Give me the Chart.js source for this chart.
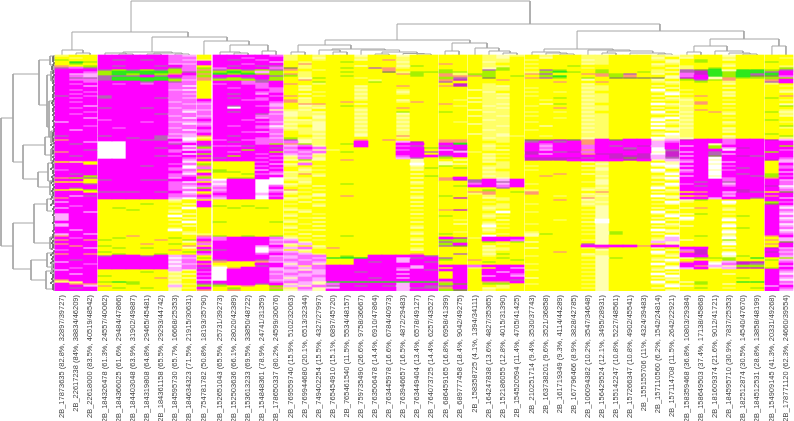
<!DOCTYPE html>
<html>
<head>
<meta charset="utf-8">
<title>Heatmap</title>
<script src="https://cdn.jsdelivr.net/npm/chart.js@4/dist/chart.umd.min.js"></script>
<style>
  html, body { margin: 0; padding: 0; background: #fff; }
  canvas { display: block; }
</style>
</head>
<body>
<canvas id="heat" width="794" height="421"></canvas>
<script>
const colLabels = [
  '2B_17873635 (82.8%, 32897/39727)', '2B_22617238 (84%, 38834/46209)', '2B_22618000 (83.5%, 40519/48542)',
  '2B_184326478 (61.3%, 24557/40062)', '2B_184366025 (61.6%, 29484/47866)', '2B_184403048 (63.9%, 31902/49887)',
  '2B_184319808 (64.8%, 29465/45481)', '2B_184361158 (65.5%, 29293/44742)', '2B_184595730 (65.7%, 16668/25353)',
  '2B_184634323 (71.5%, 21915/30631)', '2B_754781782 (50.8%, 18193/35790)',
  '2B_152651043 (65.5%, 25731/39273)', '2B_152503636 (66.1%, 28020/42389)', '2B_153613233 (69.5%, 33850/48722)',
  '2B_154848361 (78.9%, 24741/31359)', '2B_178650337 (80.2%, 24599/30676)',
  '2B_769559740 (15.9%, 5102/32063)', '2B_769944680 (20.1%, 6513/32344)', '2B_749402254 (15.5%, 4327/27997)',
  '2B_765454910 (15.1%, 6897/45720)', '2B_765461540 (11.5%, 5534/48157)', '2B_759735490 (26.6%, 9758/36667)',
  '2B_763506478 (14.4%, 6910/47864)', '2B_763445978 (16.6%, 6784/40973)', '2B_763946657 (16.5%, 4872/29483)',
  '2B_763449404 (13.4%, 6578/49127)', '2B_764073725 (14.4%, 6257/43527)',
  '2B_686459165 (16.8%, 6958/41399)', '2B_689777458 (18.4%, 9042/49275)',
  '2B_158358725 (4.1%, 1394/34111)', '2B_164247838 (13.6%, 4827/35365)', '2B_152186055 (12.8%, 4015/31390)',
  '2B_154520594 (11.4%, 4705/41425)',
  '2B_210251714 (9.4%, 3530/37743)', '2B_163738201 (9.6%, 3521/36858)', '2B_161719349 (9.3%, 4114/44289)',
  '2B_167796466 (8.9%, 3828/42785)', '2B_106094382 (10.2%, 3547/34648)', '2B_156429524 (12.1%, 3495/28931)',
  '2B_155142247 (10.8%, 5227/48561)', '2B_157266347 (10.8%, 4902/45541)', '2B_155155706 (11%, 4324/39483)',
  '2B_157110560 (6.2%, 1542/24814)', '2B_157114708 (11.5%, 2642/22921)',
  '2B_158359468 (36.8%, 10803/29384)', '2B_158649503 (37.4%, 17138/45868)', '2B_181609374 (21.6%, 9012/41721)',
  '2B_184595710 (30.9%, 7837/25353)', '2B_182512874 (30.5%, 14540/47670)', '2B_184512531 (28.8%, 13858/48199)',
  '2B_154909145 (41.3%, 20331/49268)', '2B_178771120 (62.3%, 24660/39554)'
];

// columns per cluster, and the white gap (in 1/14 of a column) after each one
const groupSizes = [3, 7, 1, 5, 11, 2, 4, 11, 6, 2];
const groupGaps = [1, 1, 2, 1, 1, 1, 1, 1, 1, 0];

const cellColors = {
  M: '#ff00ff', m: '#ff66ff', p: '#ffb0ff', w: '#ffffff',
  Y: '#ffff00', y: '#ffff66', l: '#ffffb0',
  G: '#2ee81c', g: '#a6f000', o: '#ff9a70',
  d: '#b464b4', D: '#cc22cc', n: '#8c8c50'
};

// one string per row, one letter per column, clusters split by a space
const heatRows = [
  'yYY MMMMMmp Y MMMMm yYyYYlYYlYY YY Yyly YyYYyyYYYyl yYYlYY YY',
  'YyY MMMMMmm Y MMmMM yYlYYyYYyYY YY YylY YlYYyyYYYlY lYYyYY Yy',
  'gYY MdMdMmp y MdMmM yYyYYlYoyYY YY YyyY yYYYlyYYYyl YgYlYY YY',
  'YGg MMMMMmm M MMMMp YyYYgYYYlYY YY YlyY YYYYyyYYYYl YgYYYY gY',
  'YgY MMMMMpp M MMmMM YoYYYYYYyYY oY YyYY yYYYlyYYYly YYYyYY YY',
  'oYg MdMMdMm Y MdMdd YyYYYlYYlgY YY YyyY YYYgYYYYYyY yYYlYY Yy',
  'dmd MMMMMdm g mMMMm nyYYgYdoyYY YY YlgY yYYYyYYYYYl yYgYYY Yg',
  'MMM dgdgdgm o dgdgd oYyYYYYoYYY gY YdgY YdgYYgYYYyY dnGlGG gd',
  'MMm gGGGGgd g gGgpg YyYYgYYnygg gg YgYY ygGgYgYYgyl dDGgGG dM',
  'Mpp gGgGgoM o GgGgg oyYYYYYYogY oy ggYY odYYoogdYlY mDGgGd GM',
  'Mmp dddMdMm g MMMMd gyYYgYYYYgY oo ogYg YgGYYogoYYl mMGgGn nm',
  'Mdd dGGGGdm o dgdMg YlgYYyYYYYY gd YnYY odgYgYnnnnl DMlogg gg',
  'Mmm dGGGGgp o gggdg YoYYYYyYYYY oD YYoY YYYYlYYYYlY gdgoYY oM',
  'MMm MMMdMdm Y MMmdM YYgYYYgYYYY dY YYYY YYoYYoYYYyl YgYyYY dM',
  'MmM MmMmMmm Y mMmmM oYyYYYYYYYY YD YyYY YYYYlYYYYYy YYYlYY yY',
  'MMp MMMMMmw Y MMMmM YlYYYlYYoYY oD YylY YYYYyyYYYlY YYYYYY Yy',
  'MMM MMMMMmm Y MmMmm YyYYYyYYYYY YY YyyY yYYYlyYYYYl YYYlYY YY',
  'MmM MMMMMpw Y MMMMm YlYYYlYYyYY YY lyyY YYYYyyYYYwY yYYYYY Yy',
  'MMm MMMMMmm Y MMMmm YYyYYyYYlYY YY YlYY yYyYlYYYYyl YYYlYY Yl',
  'MmM MMMMMmp Y MdMpM YlYYYlYYyYY YY YylY YYYYyyYYYYw yYYyYY YY',
  'dMm dMMMMmm Y MMMMm oYyYYyYYYYY YY YyyY yYYYlyYYYlY YoYlYY Yo',
  'MmM dMMMdmp Y MdMmM YlYYYlYYYYY YY lylY YYgYyyYYYYl yYYYYY gY',
  'MMM MMMMMmm M MMmmM oyYYYyYYlYY Yy YyyY YyYYlyYYYly lYYyYY Yy',
  'MmM MMMMMpm m MMMMm oyYYoYYYyoY YY lyyY YYYYyyYYYYY yoYYYY YY',
  'MMM MMMMMmp p MMMMp YooYYlYYYYY oY YylY YlgYlYYYYwl yoYlYY Yl',
  'MMp MMMMMmm m MdMmp YlyYgYYYYYY Yy YlyY yYYYyyYYYYy lYYYYY Yg',
  'MmM dMMdMpm m MwMMm YylYYyYYoYY YY YylY YYoYlyYYYlY yYYyYY YY',
  'MMM MMMMMmp p MMMMl ylYYYlYYYYY YY lyyY YYYYyyYYYYl yoYYYY Yy',
  'MMm MMMMMmw m MdMMm lylYYyYYgYY gY YlyY yYyYlYYYYwY lYoyYY gl',
  'MmM MMMMdmm m MMMdp lyyYYlYYlYY YY YyyY YYYYyyYYYyl yYYlYY Yy',
  'MMM MMMMMpm p MMMmm lylYYyYYyYY YY lylY yYYYlyYYYYY lYYYYY Yl',
  'MMp MMMMMmw m MMMpm yYlYYlYYlYY YY YyyY YYyYyyYYYlw yYYyYY YY',
  'MMM mMMMMmm M MMmMm llyYYyYYyYY YY YlyY YYYYlyYYYwY lYYYYY gY',
  'pMM MMMmMpp m MMMmp yylYYlYYlYY Yy YyyY yYYYyyYYYYl yYYlYY Yy',
  'MMM MMMMMmw p MMMMm lylYYyYYyYY YY lyyY YYYYlyYYYwy lYYyYY YY',
  'MMm MMMMMmm m MmMmw yYlYYlYYlYY YY YylY YlYYyyYYYYY yYYYYY Yg',
  'MMM MmMMMpm M MMMmp lylYYyYYyYY YY YyyY YYYYlyYYYwl lYYlYY Yy',
  'MpM MMMMMmw m MMMMm yylYYlYYlYY YY YlyY yYYYyyYYYYl yYYyYY YY',
  'MMM MMMMMmm m MMmpm YyyYYyYYyYY YY YyyY YYYYlyYYYyY yYYlYY YY',
  'MMM MMMMMpp M MMMMp YylYYlYYyYY YY lylY YYYYyyYYYlw yYYYYY gY',
  'dMM dMMMdmp o MdMMm YYyYYlYYoYY YY Yyly YyYYyyYYYYl yYYlYY Yg',
  'MMM MMdMdpw y MMMmp gylYYYYYyYY YY YlyY YYYYlyYYYwl lYYyYY Yy',
  'oMM MMMddMw Y mMmmm dlyYYoYoYYY oo YyyY nnDnoMnMMlp DMMmMM Dp',
  'MMp wwMMMmp M MdMmm mlyYYMYYpDY oo YYyY dMdMoMMMMpm MMMmMM MM',
  'MdM wwMMMdM M MMMmg ogyYgMYYMMY MG YyYY MmMMoMMMMpM MMlmMM MM',
  'MMM wwMMMMw d mmdMM pmlYYMYYmdY dM YlyY MpMMmMdMDpM pMgMMM Mg',
  'MMM wwMMdMm g MMMMd mMmYYYYYMMg MM YyYY MmMMmMMdMwM MMgpDM MM',
  'MMd wwMMMmw m MMgMM pmlyYYYYmMY pD YylY MpMMoMMDMwd MMMwMM Mm',
  'oMM wwMMMmM M MmMMg mpmYgYYYMMd Mp yYYY DMdDmMMMMlD pMdMMM gM',
  'MMM wwMMMMw g MMMmM pmlYYYYYMMY MM YlyY DpMMoDDMDwD MMdpMM MM',
  'MdM wwMMdmM M MgMMm lpyYYYYYmMM dM YyYY MMMMMMDDDpD pMnMDd MM',
  'MMM wwMMMMm o dMMmM ymlYYYYYpdY gY YlyY DDDDdMDnDpd MMwMMM Mm',
  'MMM MMMMMMp M MMMMm lglYoYYYYlY Yl YyYY DDDMMMMDMlp mMlMMM Dp',
  'YyY MMMMMMw Y YYYmM YyYYYYYYYlY lY YlyY YYYYlyYYYYl pMwpMM Yp',
  'MMY MMMMMmm g YYYMp lmYYYYYYYwY ll YYyY YYYYYlYYYwl MMlMMM YM',
  'MMM MMMdMMw o YYYmM yYyYYYYYYlY gY YyyY yYYYlyYYYlw pMwmMM Ym',
  'MMM MMMMMmw m YYYMm YyYYYYYYYyg Yg YlyY YYYYYlYYYYl MMwMdM Ym',
  'mMM MMMMMmm g gYYpM YlyYYYYYYlY YY YyYY yYYYylYYYwY pMlmMM YM',
  'MMM MMMMMMp Y ggYMm lyYYYYYYYYY YY YlyY YYYYYyYYYly mMwMMM Yp',
  'MdM MMMMMmw M YYgmp yoyYYYYYYlY YY YyyY YYoYlyYYYYw MMwMdM gM',
  'MMg MMMMMmm o YYYMM yYlYYYYYYYg YY YlyY YoYYYlYYYyY pMlMMd gm',
  'ogd MMMMMpM g YggMw lyYYYYYYYlY oM YylY YYYYYyYYYlw MMwmMM oM',
  'MMY dMMddMM m wMMww yyYYYYYYYYY oD dMpM YYYYYlYYYYy MMMmMM Mp',
  'YYY MMMMMmw Y pMMww YlYYYYYYYlY YY dMdM YYYYylYYYlY MdMdMM Mm',
  'MMd MMMMMmm M wMMww lyYYgYYYYyY YY mMpM yYYYYlYYYYw mMMpMM Mm',
  'MMM MMMMMmp m pMMwm yYlYYYYYYYY Yg MMmM YYYYYyYYYyl MdMmMM Dw',
  'MdM MMMMMmw g mMMwM YyYYYYYYYlY YY YYdY YYYYylYYYwY MMMMMM Mp',
  'YYg MMMMMmm M pMMwp oYyYYYYYYYY YY YgYY yYYYlyYYYYl MMMMDM Mm',
  'MMY dddMdMw Y mMMwm lyYYYYYYYlY YY ooYg oYYYYoYYYly YoMpDd Yn',
  'MMM MMMMMmp o MMMpM yYlYYYYYYYY YY yoYY oYYYlyYYYYY MMMmMM MM',
  'Mpd MMMMMmm M mMMwm YylYoYYYYyY gY YyYY YYyYylYYYwl YoMpMM oM',
  'oMM MMMMMpw m pMMwM lyYYYYYYYlY YD YlyY YYYYoyYYYYl MMpMMd Mp',
  'MMM YYYYYlY Y YYYYY yYlYYYYYYYY YY YYyY YYoYlyYYYlY lgYYYY MM',
  'pMM YYYYYyY M YYYYY YlYYYYYYYlY YY YyYY YYYYylYYYYw yYYwYY gm',
  'MMM YYYgYYl M YYYYY yYyYYYYYYYY YY YYyY yYYYlyYYYyl YYYlYY nM',
  'MmM YYYYYyY M gYgYY YYlYYYYYYlY YY YyyY YYYYylYYYYY YYYYYY Mp',
  'pMM YgYYYYw Y YgYgY yYYYYYYYYYY YY YlyY YYYYYlYYYlY loYyYY Mw',
  'MMM YYgYYyY Y YYYYY lyYYYYYYYyY oD YyYY YYYYylYYYYl YYYlYY Mm',
  'MMp YYYYYlY Y YYYYY YlYYYYYYYYY YY YYwY yYYYYlYYYwY YYYYYY Mp',
  'pMM YYYYYYl Y YYYYY yYyYYYYYYlY YY YyYY YYYYylYYYyl lgYyYY Mw',
  'pMM YYYYYwY Y YYYYY lYYYYYYYYYY gY YlyY YYYYYlYYYYw YYYYgY Mm',
  'pMM YYYYYYl Y YYYYY YylYYYYYYyY YY YyYY YYYYylYYYlY wYYlYY Mw',
  'pMM YYYYYlY Y YYYYY yYYYYYYYYYY Yy YYlY YYyYYwYYYYl lYYwYY Mp',
  'MMM YYYYYYw Y gYYYg lYlYYYYYYlY YY YyYY YYYYlwYYYwY YYYYYY Mm',
  'pMM YYYYYyY Y YYYYY YyYYYYYYYYY Yl YlyY yYYYYlYYYYl YYYlYY Mw',
  'pMM YYYYYYl Y YYYYY yYlYYYYYYyY YY YwYY YYYYylYYYly lYYwYY Mp',
  'MMM YYYYYyY Y YYYYY lYYYYYYYYlY YY YyyY YYYYYlYYYYY YYYYgY Mm',
  'MpM YYYYYwY Y YYYYY YylYYYYYYYY YY YlYY YYYYylYYYwl YYYlYY Mw',
  'MMM YYYYYYy Y YYYYY yYYYYYYYYyY Yy YyYY yYYYYlgYYYl YYYwYY Mp',
  'pMp YYYYYYl y YYYYY YlYYYYYYYlY gY YYyY lgYYylgYYlY YYYyYY Mm',
  'oMM YYoYYYY o gYgYg yYlYgYYYYYY YY YwYY lYYYYlYYYYw YgYlYY oM',
  'MmM YgYYYgY m mMMMm lyYYYYYYYyY MD yMMM YYYYYlYYYyp YYYwYY Yp',
  'oMo gYYYoYg M mMMMp pYyYYYYYYlY gg YMMm YYYYylYYYlp lYYgYY op',
  'MMM YYYYYYl o MMMMm mlYYYYYYYYY dg YgYg lYYYYlYYYpl YYYlYY Yn',
  'oMM YYYoYgY m MMMMp lpYYYYYYYlY gM YYyY YYYYdlYYYYl YYYwYY oM',
  'MoM gYYYYYo Y MMMpM yYlYYYYYYYY dn YlYY YYYYMMMMoMM YYYYYY YM',
  'MMp YgYgYYl M MMMwm pmyoYYYYYyY YY YyyY lYYYyoYYYlY MMYlYY Dp',
  'mMM YYYYYoY g dMMwp YlYYYYYYYlY YY YlyY YYYYYlYYYYl mDYYYY Mm',
  'MMM gYYYYYg M MMMwm pyYYYYYYYYY YY YyYY YYoYYyYYYwY oDYlYY Dp',
  'oMo YgYYgYY m MMMmM mpyYYYYYYoY Yd YlgY YYYYlyYYYly MDYwYY Mm',
  'MMM dMMdMpm Y MMMMp pmmYgYMMMMd YY YyYY yYYYylYYYYl MMYlgY Mp',
  'MMM MMMMMwp g MMMMm pmpGGGMMpdM dY YYgY YYYYYlgYYyY lgggYG Yg',
  'MdM MMMMMpm Y dMMdm mpmYYMMMpMM gY oYYg YYYYylYYYlw YYYgYY gp',
  'pMM MMMMMwm M oYYop pmpYYMdMpMd YY YgYY YYYYYlYYYYy oMlpDD Ym',
  'MMm MMMMMpp o YYYMM lmlYYMMMMMM YY YYYY yYYYylYYYwY MMwmDd YM',
  'MMM MMMMMwm M yYYdM pymMMMMMMpM MM mMMM YYYYYlYYYYl Moplgg Yp',
  'MmM MMMMMpm d woMMp mpmMMMMMmpM YM yYMp YYYYylYYYyw pMlpDD gM',
  'pMM YYYYYpl M wMMMp plpMMMMMpMd MM YMMM yYYYYlYYYlY YYYYYY Mm',
  'MMM YYYgYlY m wMMMm pmpMMdMMMMM YM YMpM YYYYylYYYYl YYYYYY Mp',
  'MpM YYYYYyl M wMMMp mppMMMMMpMM YM YMMm YYYYYlYYYwY YYYlYY Mw',
  'MMM gYYYYlY m wMMMm ppmMMMMMMMM YM YpMp YYYYylYYYYw YYYYYY Mm',
  'MMM YYYYoyl M wMMMm lmpMMMdMpMM YM YMMM lYYYYlYYYly YYYYgY Mp',
  'oMM YYYYYlY p wMMMp pmpMMMMMMMM MM YMMd YYYYylYYYYl YYYYYY Mw',
  'yyM gGgYYyY M MMMMm mplGGGGGGGG oM YooM YYYYYlYYYwY lgYYGG Mm',
  'Moo YYgYYly d dMMdM lplmMMMMpMM gn YggY yYYYylYYYyl YgYlYY Mp',
  'MMp oYYYYpY g gYoYg plmdMdMdpMd dM YYyY YYYYYlYYYYw lYYYYY pM',
  'MdM YgYgYly M YgYYo ymlpMMMMpdd oM YlyY YYYYylYYYlY YgYyYg Mm',
  'MMM YYYYYlY o YoYYg lplMMMMMpMM gn YyYY YYYYYlYYYYl YYYYYY Mp'
];

// column tree merges: [left x, right x, height, left child height, right child height]
const topMerges = [
  [4.93, 33.43, 54, 23, 31], [0.71, 9.0, 23, 5, 18], [6.43, 11.79, 18, 3, 14],
  [10.14, 13.36, 14, 0, 10], [12.0, 14.71, 10, 3, 4], [11.29, 12.71, 3, 0, 2],
  [12.29, 13.29, 2, 0, 0], [14.29, 15.29, 4, 0, 0], [0, 1.5, 5, 0, 2], [1, 2, 2, 0, 0],
  [4.36, 7.86, 3, 2, 2], [3.07, 4.57, 2, 0, 1], [4.07, 5.07, 1, 0, 0], [6.57, 8.57, 2, 1, 1],
  [6.07, 7.07, 1, 0, 0], [8.07, 9.07, 1, 0, 0],
  [23.93, 42.71, 31, 15, 24], [18.79, 29.14, 15, 10, 12], [16.86, 20.64, 10, 3, 6],
  [16.36, 17.36, 3, 0, 0], [19.29, 23.07, 6, 5, 5], [18.36, 19.86, 5, 0, 3], [19.36, 20.36, 3, 0, 0],
  [21.36, 24.11, 5, 0, 3], [22.86, 25.36, 3, 1, 1.5], [22.36, 23.36, 1, 0, 0],
  [24.36, 25.86, 1.5, 0, 1], [25.36, 26.36, 1, 0, 0],
  [27.86, 30.36, 12, 4, 7], [27.36, 28.36, 4, 0, 0], [29.5, 31.21, 7, 0, 4],
  [30.5, 32, 4, 0, 2], [31.5, 32.5, 2, 0, 0],
  [36.79, 48.71, 24, 6, 16], [34.43, 39.36, 6, 3, 5], [33.57, 35.57, 3, 0, 2],
  [34.57, 36.07, 2, 0, 1], [35.57, 36.57, 1, 0, 0], [37.57, 40.57, 5, 0, 4],
  [38.95, 42.2, 4, 2, 2], [38.57, 39.57, 2, 0, 0], [40.57, 43.07, 2, 0, 1],
  [42.57, 43.57, 1, 0, 0],
  [46.29, 51.21, 16, 9, 9], [45.14, 47.5, 9, 3, 4], [44.64, 45.64, 3, 0, 0],
  [46.64, 48.64, 4, 0, 2], [47.64, 49.14, 2, 0, 1], [48.64, 49.64, 1, 0, 0],
  [50.71, 51.71, 9, 0, 0]
];

// row tree merges: [top row, bottom row, depth, top child depth, bottom child depth]
const sideMerges = [
  [31.5, 95.5, 54, 42, 42], [9.5, 53.5, 42, 16, 32], [84, 107, 42, 21, 24],
  [2.5, 25, 16, 5, 8], [0.5, 5, 5, 2, 2], [10, 36, 8, 4, 6], [8, 13, 4, 2, 2],
  [23, 41, 6, 3, 3], [45, 62, 32, 10, 17], [41, 50, 10, 4, 4], [38, 44, 4, 2, 2],
  [47, 53, 4, 2, 2], [58.5, 66, 17, 7, 5], [54, 63, 7, 3, 3], [63, 70, 5, 3, 2],
  [74.5, 94, 21, 8, 5], [72, 78, 8, 3, 3], [91, 97, 5, 3, 2],
  [102.5, 112.5, 24, 8, 9], [99, 106, 8, 3, 3], [108, 117, 9, 4, 3], [104, 109, 3, 2, 1]
];

// short twigs right next to the heatmap, depth per row
const sideTwigs = [
  2, 2, 2, 1, 2, 3, 3, 2, 2, 1, 2, 3, 2, 2, 1, 2, 2, 2, 1, 2, 2, 1, 2, 3, 2, 1, 2, 2, 1, 2,
  1, 1, 2, 1, 1, 2, 1, 1, 2, 2, 3, 2, 2, 1, 4, 2, 3, 2, 2, 4, 2, 1, 2, 3, 2, 2, 4, 2, 2, 1,
  3, 2, 2, 4, 2, 1, 2, 3, 2, 2, 3, 4, 2, 2, 4, 1, 2, 1, 1, 2, 1, 1, 1, 2, 1, 1, 1, 2, 1, 2,
  2, 4, 2, 3, 2, 2, 3, 1, 2, 4, 2, 3, 2, 4, 2, 2, 3, 2, 4, 2, 2, 3, 2, 4, 2, 2, 2, 2
];

// column centres in scale units, with the cluster gaps added
const colX = [];
let gapSoFar = 0;
groupSizes.forEach((size, g) => {
  for (let i = 0; i < size; i++) colX.push(colX.length + gapSoFar / 14);
  gapSoFar += groupGaps[g];
});

const rowCells = heatRows.map(r => r.replace(/ /g, ''));

function heatDatasets() {
  const byColor = {};
  Object.keys(cellColors).forEach(k => { byColor[k] = []; });
  colX.forEach((x, c) => {
    let start = 0;
    for (let r = 1; r <= rowCells.length; r++) {
      if (r === rowCells.length || rowCells[r][c] !== rowCells[start][c]) {
        byColor[rowCells[start][c]].push({ x: x, y: [start, r] });
        start = r;
      }
    }
  });
  return Object.keys(byColor).map(k => ({
    type: 'bar',
    data: byColor[k],
    backgroundColor: cellColors[k],
    borderWidth: 0,
    grouped: false,
    barPercentage: 1,
    categoryPercentage: 1,
    xAxisID: 'x',
    yAxisID: 'y'
  }));
}

function topPoints() {
  const pts = [];
  topMerges.forEach(m => {
    pts.push({ x: m[0], y: m[3] }, { x: m[0], y: m[2] }, { x: m[1], y: m[2] }, { x: m[1], y: m[4] }, { x: null, y: null });
  });
  return pts;
}

function sidePoints() {
  const pts = [];
  sideMerges.forEach(m => {
    pts.push({ x: m[3], y: m[0] }, { x: m[2], y: m[0] }, { x: m[2], y: m[1] }, { x: m[4], y: m[1] }, { x: null, y: null });
  });
  return pts;
}

function twigPoints() {
  const pts = [];
  sideTwigs.forEach((d, r) => {
    pts.push({ x: 0, y: r + 0.5 }, { x: d, y: r + 0.5 });
    if (r + 1 < sideTwigs.length) pts.push({ x: d, y: r + 1.5 });
    pts.push({ x: null, y: null });
  });
  return pts;
}

function treeLine(points, xAxisID, yAxisID, color) {
  return {
    type: 'scatter',
    data: points,
    showLine: true,
    spanGaps: false,
    borderColor: color,
    borderWidth: 1,
    pointRadius: 0,
    xAxisID: xAxisID,
    yAxisID: yAxisID
  };
}

new Chart(document.getElementById('heat'), {
  type: 'bar',
  data: {
    datasets: heatDatasets().concat([
      treeLine(topPoints(), 'x', 'treeTop', '#a6a6a6'),
      treeLine(sidePoints(), 'treeSide', 'y', '#a6a6a6'),
      treeLine(twigPoints(), 'treeSide', 'y', '#666666')
    ])
  },
  options: {
    responsive: false,
    animation: false,
    events: [],
    layout: { padding: 0 },
    plugins: { legend: { display: false }, tooltip: { enabled: false } },
    scales: {
      x: {
        type: 'linear',
        offset: false,
        min: -0.5 - 55 / 14,
        max: -0.5 - 55 / 14 + 794 / 14,
        afterBuildTicks: s => { s.ticks = colX.map(v => ({ value: v })); },
        afterFit: s => { s.height = 130; s.paddingLeft = 0; s.paddingRight = 0; },
        grid: { display: false, drawTicks: false },
        border: { display: false },
        ticks: {
          autoSkip: false,
          minRotation: 90,
          maxRotation: 90,
          padding: 4,
          color: '#444444',
          font: { family: 'Liberation Sans', size: 7.5 },
          callback: (v, i) => colLabels[i]
        }
      },
      y: { type: 'linear', reverse: true, min: -27.5, max: 118, display: false },
      treeTop: { axis: 'y', type: 'linear', min: -236, max: 55, display: false },
      treeSide: { axis: 'x', type: 'linear', offset: false, reverse: true, min: -739, max: 55, display: false }
    }
  }
});
</script>
</body>
</html>
